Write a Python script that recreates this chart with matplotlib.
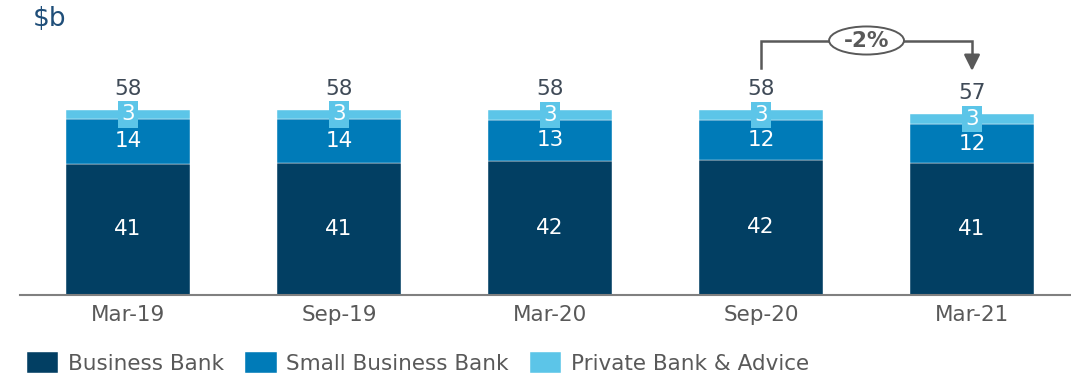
import matplotlib.pyplot as plt
from matplotlib.patches import Ellipse

periods = ["Mar-19", "Sep-19", "Mar-20", "Sep-20", "Mar-21"]
business_bank = [41.1, 41.4, 42.0, 42.4, 41.4]
small_business_bank = [14.1, 13.8, 13.0, 12.4, 12.2]
private_bank = [2.8, 2.8, 3.0, 3.2, 3.2]
change_label = "-2%"

C_BB = "#023f63"
C_SBB = "#007bb8"
C_PB = "#5cc5e8"
TXT = "#3f4a57"
FS = 15.5

fig = plt.figure(figsize=(10.71, 3.76), dpi=100)
ax = fig.add_axes([20 / 1071, 81 / 376, 1051 / 1071, 295 / 376])

x = list(range(len(periods)))
w = 0.588
bot2 = business_bank
bot3 = [a + b for a, b in zip(business_bank, small_business_bank)]
totals = [a + b for a, b in zip(bot3, private_bank)]

ax.bar(x, business_bank, w, color=C_BB, label="Business Bank", edgecolor="white", linewidth=0.3)
ax.bar(x, small_business_bank, w, bottom=bot2, color=C_SBB, label="Small Business Bank", edgecolor="white", linewidth=0.3)
ax.bar(x, private_bank, w, bottom=bot3, color=C_PB, label="Private Bank & Advice", edgecolor="white", linewidth=0.3)

for i in x:
    ax.text(i, business_bank[i] / 2, f"{business_bank[i]:.0f}", ha="center", va="center", color="white", fontsize=FS)
    ax.text(i, bot2[i] + small_business_bank[i] / 2, f"{small_business_bank[i]:.0f}", ha="center", va="center", color="white", fontsize=FS)
    ax.text(i, bot3[i] + private_bank[i] / 2, f"{private_bank[i]:.0f}", ha="center", va="center", color="white", fontsize=FS,
            bbox=dict(boxstyle="square,pad=0.15", facecolor=C_PB, edgecolor="none"))
    ax.text(i, totals[i] + 3.4, f"{totals[i]:.0f}", ha="center", va="bottom", color=TXT, fontsize=FS)

# growth bracket Sep-20 -> Mar-21
y_br = 79.8
ax.plot([3, 3, 4, 4], [71.2, y_br, y_br, 74], color="#595959", lw=1.8, solid_joinstyle="miter")
ax.annotate("", xy=(4, 69.4), xytext=(4, 75), arrowprops=dict(arrowstyle="-|>", color="#595959", lw=1.8, mutation_scale=24))
ell = Ellipse((3.5, y_br), 0.355, 8.8, facecolor="white", edgecolor="#595959", lw=1.4, zorder=3)
ax.add_patch(ell)
ax.text(3.5, y_br, change_label, ha="center", va="center", fontsize=FS, fontweight="bold", color="#595959", zorder=4)

ax.set_xlim(-0.512, 4.469)
ax.set_ylim(0, 92.5)
ax.set_xticks(x)
ax.set_xticklabels(periods, fontsize=FS, color="#595959")
ax.tick_params(axis="x", length=0, pad=7)
ax.set_yticks([])
for s in ["top", "right", "left"]:
    ax.spines[s].set_visible(False)
ax.spines["bottom"].set_color("#808080")
ax.spines["bottom"].set_linewidth(1.5)

fig.text(33 / 1071, 1 - 19 / 376, "$b", fontsize=19, color="#1f4e79", va="center", ha="left")

fig.legend(loc="lower left", bbox_to_anchor=(0.007, -0.045), ncol=3, frameon=False, fontsize=FS,
           handlelength=1.45, handleheight=1.1, handletextpad=0.45, columnspacing=1.0, labelcolor="#595959")

fig.savefig("out.png", dpi=100)
